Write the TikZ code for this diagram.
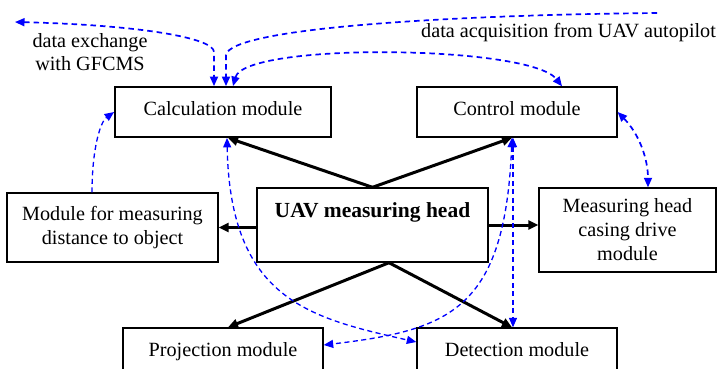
\documentclass[tikz,border=0pt]{standalone}
\usepackage{fontspec}
\setmainfont{Liberation Serif}
\usetikzlibrary{arrows.meta}
\begin{document}
\begin{tikzpicture}[x=1pt,y=-1pt]
\tikzset{
  modbox/.style={draw, line width=1.4pt, inner sep=0pt, font=\fontsize{20.2}{24}\selectfont},
  onebox/.style={modbox, text height=14pt, text depth=8pt},
  multibox/.style={modbox, align=center},
  lbl/.style={inner sep=0pt, font=\fontsize{20.2}{24}\selectfont},
  blackarrow/.style={line width=3pt, -{Triangle[length=10pt,width=9pt]}},
  bluetip/.tip={Triangle[length=9.5pt,width=8pt]},
  bluedash/.style={blue, line width=1.3pt, dash pattern=on 5pt off 3.5pt},
  bluetop/.style={blue, line width=1.7pt, dash pattern=on 5.5pt off 4pt},
}
\useasboundingbox (0,0) rectangle (720,368);
\clip (0,0) rectangle (720,368);

% boxes
\node[onebox, minimum width=216pt, minimum height=50pt, line width=1.8pt] (calc) at (223,112) {Calculation module};
\node[onebox, minimum width=200pt, minimum height=50pt] (ctrl) at (517,112) {Control module};
\node[modbox, minimum width=231pt, minimum height=74pt] (head) at (372.5,225) {};
\node[anchor=base, inner sep=0pt, font=\fontsize{21.5}{24}\selectfont\bfseries] (headlabel) at (372.5,217) {UAV measuring head};
\node[multibox, minimum width=211pt, minimum height=69pt] (dist) at (112.5,227.5) {Module for measuring\\distance to object};
\node[multibox, minimum width=177pt, minimum height=84pt] (casing) at (627.5,230) {Measuring head\\casing drive\\module};
\node[onebox, minimum width=200pt, minimum height=50pt] (proj) at (223,353) {Projection module};
\node[onebox, minimum width=200pt, minimum height=50pt] (det) at (517,353) {Detection module};

% free labels
\node[lbl, anchor=base] (lx1) at (90,47) {data exchange};
\node[lbl, anchor=base] (lx2) at (90,70) {with GFCMS};
\node[lbl, anchor=base west] (lacq) at (421,37) {data acquisition from UAV autopilot};

% black arrows
\draw[blackarrow] (head.north) -- ([xshift=5pt]calc.south);
\draw[blackarrow] (head.north) -- ([xshift=-5pt]ctrl.south);
\draw[blackarrow] ([xshift=16.5pt]head.south) -- ([xshift=5pt]proj.north);
\draw[blackarrow] ([xshift=16.5pt]head.south) -- ([xshift=-5pt]det.north);
\draw[blackarrow] (head.west |- dist.east) -- (dist.east);
\draw[blackarrow] (head.east) -- (casing.west |- head.east);

% blue dashed connectors
\coordinate (gfcms) at (15,22);
\coordinate (autopilot) at (657,13);
\draw[bluetop, bluetip-bluetip] (gfcms) .. controls (140,25) and (214,38) .. (214,52) -- ([xshift=-9pt]calc.north);
\draw[bluetop, -bluetip] (autopilot) .. controls (450,15) and (230,28) .. (226,55) -- ([xshift=3pt]calc.north);
\draw[bluetop, bluetip-bluetip] ([xshift=10pt]calc.north) .. controls (245,42) and (530,45) .. ([xshift=45pt]ctrl.north);
\draw[bluedash, -bluetip] ([xshift=-20.5pt]dist.north) .. controls (92,150) and (100,122) .. (calc.west);
\draw[bluetop, bluetip-bluetip] (ctrl.east) .. controls (640,135) and (648,160) .. ([xshift=20.5pt]casing.north);
\draw[bluedash, bluetip-bluetip] ([xshift=4pt]calc.south) .. controls (230,300) and (310,318) .. ([yshift=11pt]det.west);
\draw[bluedash, bluetip-bluetip] ([xshift=-5pt]ctrl.south) .. controls (505,310) and (450,330) .. ([yshift=8pt]proj.east);
\draw[bluedash, bluetip-bluetip] ([xshift=-4pt]ctrl.south) -- ([xshift=-4pt]det.north);
\end{tikzpicture}
\end{document}
